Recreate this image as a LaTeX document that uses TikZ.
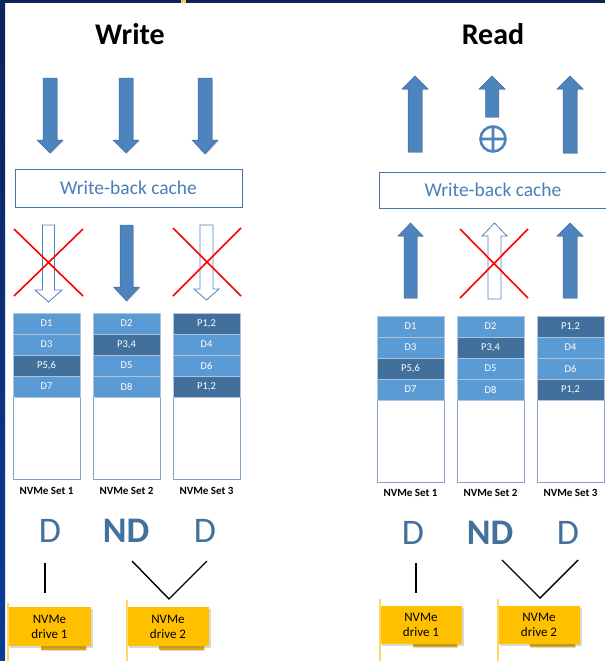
\documentclass[tikz,border=0pt]{standalone}
\usepackage{fontspec}
\setmainfont{Carlito}
\usetikzlibrary{shadows}

\definecolor{arrowblue}{RGB}{77,132,190}
\definecolor{arrowedge}{RGB}{62,108,160}
\definecolor{cellLight}{RGB}{91,155,213}
\definecolor{cellDark}{RGB}{65,112,156}
\definecolor{cellEdge}{RGB}{175,195,220}
\definecolor{colEdge}{RGB}{135,160,198}
\definecolor{labelBlue}{RGB}{65,113,156}
\definecolor{cacheText}{RGB}{74,126,187}
\definecolor{cacheEdge}{RGB}{70,115,170}
\definecolor{driveYellow}{RGB}{255,192,0}
\definecolor{driveStrip}{RGB}{225,165,0}
\definecolor{driveLine}{RGB}{255,215,100}
\definecolor{navyTop}{RGB}{14,34,92}
\definecolor{navyLow}{RGB}{10,60,152}
\definecolor{markYellow}{RGB}{232,212,77}

% block arrow: [style]{centre x}{tail}{head base}{tip}{half shaft}{half head}
\newcommand{\blockarrow}[7][]{%
  \path[#1] (#2-#6,#3) -- (#2+#6,#3) -- (#2+#6,#4) -- (#2+#7,#4) -- (#2,#5)
    -- (#2-#7,#4) -- (#2-#6,#4) -- cycle;}

\tikzset{
  solidarrow/.style={fill=arrowblue, draw=arrowedge, line width=0.5pt,
    drop shadow={opacity=0.25, shadow xshift=1pt, shadow yshift=-1pt}},
  hollowarrow/.style={fill=white, draw=arrowblue, line width=0.8pt},
  cross/.style={draw=red, line width=1.6pt},
  title/.style={font=\bfseries\fontsize{30}{30}\selectfont},
  cache/.style={draw=cacheEdge, line width=0.8pt, minimum height=38pt, inner sep=0pt,
    text=cacheText, font=\fontsize{19.5}{19.5}\selectfont},
  colbox/.style={draw=colEdge, line width=0.8pt, fill=white, minimum width=67pt, inner sep=0pt},
  cellL/.style={fill=cellLight, draw=cellEdge, line width=0.5pt, minimum width=67pt,
    minimum height=21pt, inner sep=0pt, text=white, font=\fontsize{10.5}{10.5}\selectfont},
  cellD/.style={cellL, fill=cellDark},
  setlabel/.style={font=\bfseries\fontsize{11}{11}\selectfont},
  dlabel/.style={text=labelBlue, font=\fontsize{36}{36}\selectfont, inner sep=0pt},
  ndlabel/.style={dlabel, font=\bfseries\fontsize{36}{36}\selectfont},
  link/.style={draw=black, line width=1.4pt},
  drive/.style={fill=driveYellow, minimum width=83pt, minimum height=39pt, inner sep=0pt,
    align=center, font=\fontsize{13}{15}\selectfont,
    drop shadow={opacity=0.3, shadow xshift=1.5pt, shadow yshift=-1.5pt}},
  drivestrip/.style={fill=driveStrip, drop shadow={opacity=0.25, shadow xshift=1pt, shadow yshift=-1pt}},
  driveedge/.style={draw=driveLine, line width=1.3pt},
}

\newcommand{\cell}[5]{\node[#4] (#1) at (#2,#3) {#5};}

\begin{document}
\begin{tikzpicture}[x=1pt, y=-1pt]
\useasboundingbox (0,0) rectangle (605,661);
\fill[white] (0,0) rectangle (605,661);

% frame of the slide
\shade[top color=navyTop, bottom color=navyLow] (0,0) rectangle (5,661);
\fill[navyTop] (0,0) rectangle (605,3);
\fill[markYellow] (181,0) rectangle (186,3);

% ---------------- Write ----------------
\node[title] (wtitle) at (130,34) {Write};

\blockarrow[solidarrow]{50}{78}{140}{153}{7}{13}
\blockarrow[solidarrow]{126}{78}{140}{153}{7}{13}
\blockarrow[solidarrow]{205}{78}{140}{154}{7}{13}

\node[cache, minimum width=227pt] (wcache) at (128.5,188) {Write-back cache};

\blockarrow[hollowarrow]{48.5}{225}{290}{302}{6}{13.5}
\blockarrow[solidarrow]{126.5}{225}{287}{301}{6.5}{13}
\blockarrow[hollowarrow]{206.5}{225}{289}{300}{6.5}{12.5}
\draw[cross] (14,229) -- (83,296) (14,296) -- (83,229);
\draw[cross] (173,228) -- (241,296) (173,296) -- (241,228);

% stripes on the three sets
\node[colbox, minimum height=166pt] (wcol1) at (46.5,396) {};
\node[colbox, minimum height=166pt] (wcol2) at (126.5,396) {};
\node[colbox, minimum height=166pt] (wcol3) at (206.5,396) {};
\cell{w11}{46.5}{323.5}{cellL}{D1}
\cell{w12}{46.5}{344.5}{cellL}{D3}
\cell{w13}{46.5}{365.5}{cellD}{P5,6}
\cell{w14}{46.5}{386.5}{cellL}{D7}
\cell{w21}{126.5}{323.5}{cellL}{D2}
\cell{w22}{126.5}{344.5}{cellD}{P3,4}
\cell{w23}{126.5}{365.5}{cellL}{D5}
\cell{w24}{126.5}{386.5}{cellL}{D8}
\cell{w31}{206.5}{323.5}{cellD}{P1,2}
\cell{w32}{206.5}{344.5}{cellL}{D4}
\cell{w33}{206.5}{365.5}{cellL}{D6}
\cell{w34}{206.5}{386.5}{cellD}{P1,2}
\node[setlabel] (wset1) at (46.5,491) {NVMe Set 1};
\node[setlabel] (wset2) at (126.5,491) {NVMe Set 2};
\node[setlabel] (wset3) at (206.5,491) {NVMe Set 3};

\node[dlabel] (wd1) at (50,531) {D};
\node[ndlabel] (wnd) at (126,531) {ND};
\node[dlabel] (wd3) at (205,531) {D};

% drives
\fill[drivestrip] (41,644) rectangle (86,650);
\fill[drivestrip] (159,644) rectangle (204,650);
\node[drive] (wdrv1) at (49.5,626.5) {NVMe\\drive 1};
\node[drive, minimum width=82pt] (wdrv2) at (168,626.5) {NVMe\\drive 2};
\draw[driveedge] (8,603) -- (8,661);
\draw[driveedge] (127,600) -- (127,661);

\coordinate (wa1) at (45,563);
\coordinate (wb1) at (45,593);
\coordinate (wa2) at (132,561);
\coordinate (wb2) at (169,599);
\coordinate (wc2) at (207,561);
\draw[link] (wa1) -- (wb1);
\draw[link] (wa2) -- (wb2) -- (wc2);

% ---------------- Read ----------------
\node[title] (rtitle) at (493,34) {Read};

\blockarrow[solidarrow]{415}{152}{89}{76}{7}{13}
\blockarrow[solidarrow]{492}{117}{89}{76}{6.5}{13}
\blockarrow[solidarrow]{570}{153}{89}{76}{7}{13}
\draw[arrowblue, line width=2.6pt] (493,139) circle (12.5)
  (480.5,139) -- (505.5,139) (493,126.5) -- (493,151.5);

\node[cache, minimum width=228pt, minimum height=36pt] (rcache) at (493,190) {Write-back cache};

\blockarrow[solidarrow]{410.5}{298}{236}{223}{6.5}{12.5}
\blockarrow[hollowarrow]{494.5}{299}{236}{223}{6.5}{12.5}
\blockarrow[solidarrow]{570}{298}{236}{223}{7}{13}
\draw[cross] (460,229) -- (528,298) (460,298) -- (528,229);

\node[colbox, minimum height=166pt] (rcol1) at (410.5,399) {};
\node[colbox, minimum height=166pt] (rcol2) at (490.5,399) {};
\node[colbox, minimum height=166pt] (rcol3) at (570.5,399) {};
\cell{r11}{410.5}{326.5}{cellL}{D1}
\cell{r12}{410.5}{347.5}{cellL}{D3}
\cell{r13}{410.5}{368.5}{cellD}{P5,6}
\cell{r14}{410.5}{389.5}{cellL}{D7}
\cell{r21}{490.5}{326.5}{cellL}{D2}
\cell{r22}{490.5}{347.5}{cellD}{P3,4}
\cell{r23}{490.5}{368.5}{cellL}{D5}
\cell{r24}{490.5}{389.5}{cellL}{D8}
\cell{r31}{570.5}{326.5}{cellD}{P1,2}
\cell{r32}{570.5}{347.5}{cellL}{D4}
\cell{r33}{570.5}{368.5}{cellL}{D6}
\cell{r34}{570.5}{389.5}{cellD}{P1,2}
\node[setlabel] (rset1) at (410.5,493) {NVMe Set 1};
\node[setlabel] (rset2) at (490.5,493) {NVMe Set 2};
\node[setlabel] (rset3) at (570.5,493) {NVMe Set 3};

\node[dlabel] (rd1) at (413,533) {D};
\node[ndlabel] (rnd) at (490,533) {ND};
\node[dlabel] (rd3) at (568,533) {D};

\fill[drivestrip] (413,642) rectangle (457,647);
\fill[drivestrip] (530,642) rectangle (575,647);
\node[drive, minimum width=82pt, minimum height=38pt] (rdrv1) at (421,625) {NVMe\\drive 1};
\node[drive, minimum width=82pt, minimum height=38pt] (rdrv2) at (539,625) {NVMe\\drive 2};
\draw[driveedge] (380,599) -- (380,661);
\draw[driveedge] (498,599) -- (498,661);

\coordinate (ra1) at (416,563);
\coordinate (rb1) at (416,593);
\coordinate (ra2) at (502,560);
\coordinate (rb2) at (540,598);
\coordinate (rc2) at (578,560);
\draw[link] (ra1) -- (rb1);
\draw[link] (ra2) -- (rb2) -- (rc2);
\end{tikzpicture}
\end{document}
